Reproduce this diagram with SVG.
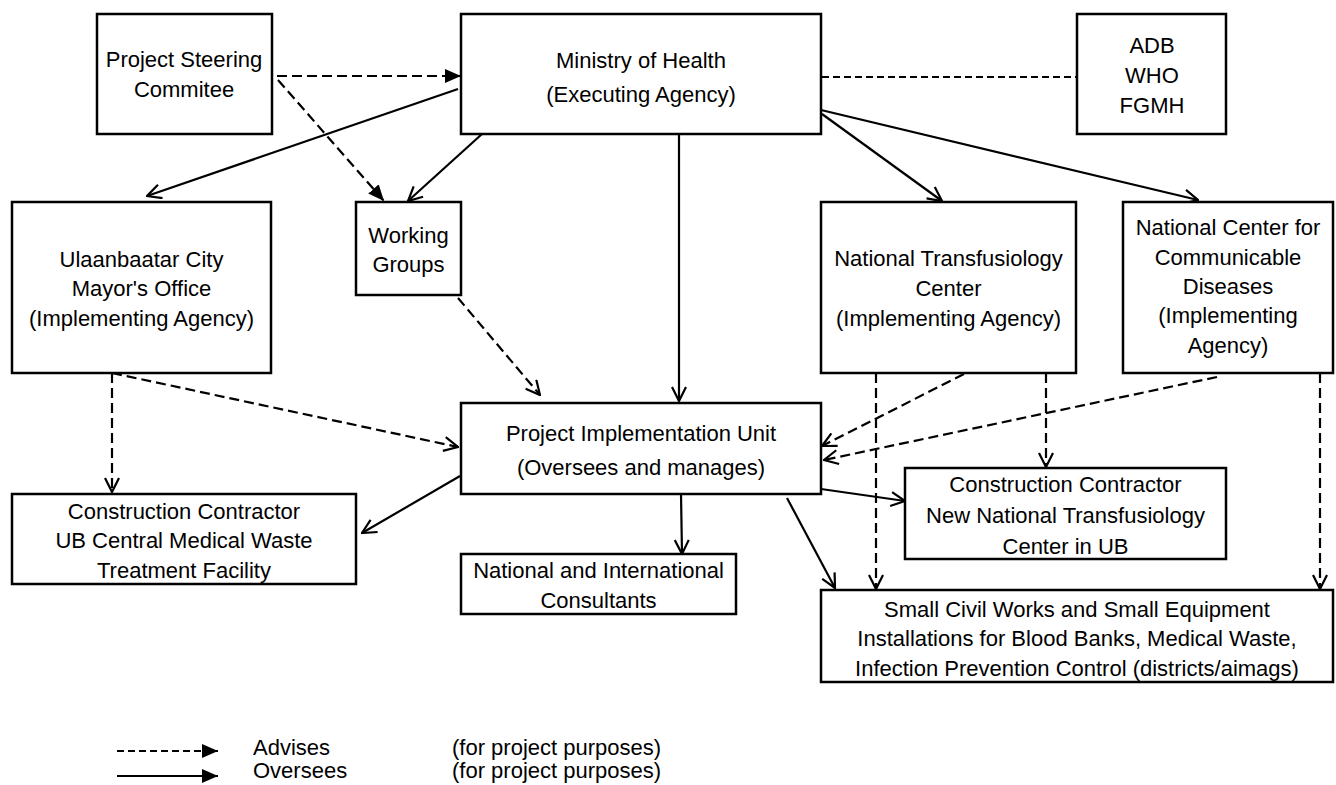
<svg xmlns="http://www.w3.org/2000/svg" width="1336" height="785" viewBox="0 0 1336 785">
<style>
  .box { fill: #ffffff; stroke: #000000; stroke-width: 2.5; }
  text { font-family: "Liberation Sans", Arial, sans-serif; font-size: 22px; fill: #000000; }
  .c { text-anchor: middle; }
  .solid { fill: none; stroke: #000000; stroke-width: 2.2; }
  .dash { fill: none; stroke: #000000; stroke-width: 2.2; stroke-dasharray: 10 5; }
  .dash2 { fill: none; stroke: #000000; stroke-width: 2.2; stroke-dasharray: 7 4; }
  .open { marker-end: url(#openArrow); }
  .filled { marker-end: url(#filledArrow); }
</style>
<defs>
  <marker id="openArrow" markerUnits="userSpaceOnUse" viewBox="0 0 16 16" refX="15" refY="8" markerWidth="16" markerHeight="16" orient="auto">
    <path d="M1,1 L15,8 L1,15" fill="none" stroke="#000000" stroke-width="2.2"/>
  </marker>
  <marker id="filledArrow" markerUnits="userSpaceOnUse" viewBox="0 0 16 14" refX="16" refY="7" markerWidth="16" markerHeight="14" orient="auto">
    <path d="M0,0 L16,7 L0,14 Z" fill="#000000"/>
  </marker>
</defs>
<rect width="1336" height="785" fill="#ffffff"/>

<g id="connectors">
  <!-- dashed with filled heads -->
  <line class="dash filled" x1="277" y1="76" x2="461" y2="76"/>
  <line class="dash filled" x1="278" y1="80" x2="384" y2="201"/>
  <!-- dashed, no head -->
  <line class="dash2" x1="822" y1="77" x2="1077" y2="77"/>
  <!-- solid, open heads -->
  <line class="solid open" x1="458" y1="89" x2="147" y2="196"/>
  <line class="solid open" x1="482" y1="134" x2="408" y2="201"/>
  <line class="solid open" x1="679" y1="134" x2="679" y2="401"/>
  <line class="solid open" x1="822" y1="114" x2="942" y2="201"/>
  <line class="solid open" x1="821" y1="110" x2="1198" y2="200"/>
  <line class="solid open" x1="460" y1="476" x2="362" y2="533"/>
  <line class="solid open" x1="681" y1="494" x2="682" y2="554"/>
  <line class="solid open" x1="821" y1="489" x2="905" y2="501"/>
  <line class="solid open" x1="787" y1="498" x2="835" y2="588"/>
  <!-- dashed, open heads -->
  <line class="dash open" x1="458" y1="298" x2="540" y2="395"/>
  <line class="dash open" x1="112" y1="373" x2="458" y2="447"/>
  <line class="dash open" x1="112" y1="373" x2="112" y2="492"/>
  <line class="dash open" x1="964" y1="374" x2="822" y2="446"/>
  <line class="dash open" x1="876" y1="373" x2="876" y2="589"/>
  <line class="dash open" x1="1046" y1="373" x2="1046" y2="467"/>
  <line class="dash open" x1="1217" y1="377" x2="824" y2="460"/>
  <line class="dash open" x1="1320" y1="373" x2="1320" y2="589"/>
</g>

<g id="psc">
  <rect class="box" x="97" y="14" width="175" height="120"/>
  <text class="c" x="184" y="67">Project Steering</text>
  <text class="c" x="184" y="97">Commitee</text>
</g>
<g id="moh">
  <rect class="box" x="461" y="14" width="360" height="120"/>
  <text class="c" x="641" y="68">Ministry of Health</text>
  <text class="c" x="641" y="102">(Executing Agency)</text>
</g>
<g id="adb">
  <rect class="box" x="1077" y="14" width="149" height="120"/>
  <text class="c" x="1152" y="53">ADB</text>
  <text class="c" x="1152" y="83">WHO</text>
  <text class="c" x="1152" y="113">FGMH</text>
</g>
<g id="ulaanbaatar">
  <rect class="box" x="12" y="202" width="259" height="171"/>
  <text class="c" x="141.5" y="267">Ulaanbaatar City</text>
  <text class="c" x="141.5" y="296">Mayor's Office</text>
  <text class="c" x="141.5" y="326">(Implementing Agency)</text>
</g>
<g id="working-groups">
  <rect class="box" x="356" y="202" width="105" height="93"/>
  <text class="c" x="408.5" y="243">Working</text>
  <text class="c" x="408.5" y="272">Groups</text>
</g>
<g id="ntc">
  <rect class="box" x="821" y="202" width="255" height="171"/>
  <text class="c" x="948.5" y="266">National Transfusiology</text>
  <text class="c" x="948.5" y="296">Center</text>
  <text class="c" x="948.5" y="326">(Implementing Agency)</text>
</g>
<g id="nccd">
  <rect class="box" x="1123" y="202" width="210" height="171"/>
  <text class="c" x="1228" y="235">National Center for</text>
  <text class="c" x="1228" y="265">Communicable</text>
  <text class="c" x="1228" y="294">Diseases</text>
  <text class="c" x="1228" y="323">(Implementing</text>
  <text class="c" x="1228" y="353">Agency)</text>
</g>
<g id="piu">
  <rect class="box" x="461" y="403" width="360" height="91"/>
  <text class="c" x="641" y="441">Project Implementation Unit</text>
  <text class="c" x="641" y="475">(Oversees and manages)</text>
</g>
<g id="cc-ub">
  <rect class="box" x="12" y="494" width="344" height="90"/>
  <text class="c" x="184" y="519">Construction Contractor</text>
  <text class="c" x="184" y="548">UB Central Medical Waste</text>
  <text class="c" x="184" y="578">Treatment Facility</text>
</g>
<g id="consultants">
  <rect class="box" x="461" y="554" width="275" height="60"/>
  <text class="c" x="598.5" y="578">National and International</text>
  <text class="c" x="598.5" y="608">Consultants</text>
</g>
<g id="cc-nntc">
  <rect class="box" x="905" y="468" width="321" height="91"/>
  <text class="c" x="1065.5" y="492">Construction Contractor</text>
  <text class="c" x="1065.5" y="523">New National Transfusiology</text>
  <text class="c" x="1065.5" y="554">Center in UB</text>
</g>
<g id="small-works">
  <rect class="box" x="821" y="590" width="512" height="92"/>
  <text class="c" x="1077" y="617">Small Civil Works and Small Equipment</text>
  <text class="c" x="1077" y="646">Installations for Blood Banks, Medical Waste,</text>
  <text class="c" x="1077" y="676">Infection Prevention Control (districts/aimags)</text>
</g>

<g id="legend">
  <line class="dash2 filled" x1="117" y1="751" x2="218" y2="751"/>
  <line class="solid filled" x1="117" y1="776" x2="218" y2="776"/>
  <text x="253" y="755">Advises</text>
  <text x="452" y="755">(for project purposes)</text>
  <text x="253" y="778">Oversees</text>
  <text x="452" y="778">(for project purposes)</text>
</g>
</svg>
